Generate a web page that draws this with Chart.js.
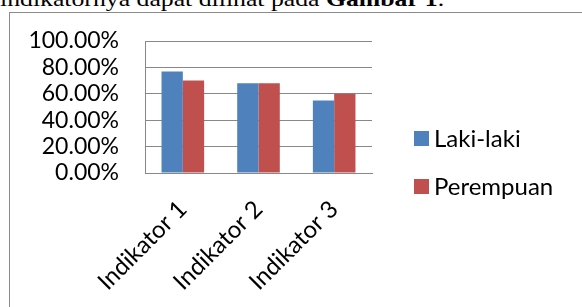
<!DOCTYPE html>
<html>
<head>
<meta charset="utf-8">
<script src="https://cdn.jsdelivr.net/npm/chart.js@4.4.1/dist/chart.umd.min.js"></script>
<style>
  body { margin: 0; background: #fff; width: 582px; height: 307px; overflow: hidden; position: relative; }
  #caption {
    position: absolute; left: 0; top: -12px; white-space: nowrap;
    font-family: "Liberation Serif", serif; font-size: 22px; line-height: 22px; color: #000;
    transform: scaleX(1.17); transform-origin: 0 0;
  }
  #frame { position: absolute; left: 9px; top: 12px; width: 700px; height: 400px; border: 1px solid #8a8a8a; }
  #chart { position: absolute; left: 10px; top: 13px; }
</style>
</head>
<body>
<div id="caption">indikatornya dapat dilihat pada <b>Gambar 1</b>.</div>
<div id="frame"></div>
<canvas id="chart" width="572" height="294"></canvas>
<script>
// data
const categories = ['Indikator 1', 'Indikator 2', 'Indikator 3'];
const lakiLaki = [76.8, 68, 55];
const perempuan = [70, 68, 60];
const seriesNames = ['Laki-laki', 'Perempuan'];
const yTicks = [0, 20, 40, 60, 80, 100];

const FONT = 'Lato, "Open Sans", sans-serif';
const GRID = '#888888';

// legenda digambar sendiri supaya posisinya sama dengan gambar asli
const sideLegend = {
    id: 'sideLegend',
    afterDraw(chart) {
        const ctx = chart.ctx;
        ctx.save();
        ctx.font = '24px ' + FONT;
        ctx.textBaseline = 'middle';
        chart.data.datasets.forEach((ds, i) => {
            const top = 118 + i * 48;
            ctx.fillStyle = ds.backgroundColor;
            ctx.fillRect(404, top, 15, 15);
            ctx.fillStyle = '#000';
            ctx.fillText(ds.label, 424, top + 8);
        });
        ctx.restore();
    }
};

new Chart(document.getElementById('chart'), {
    type: 'bar',
    data: {
        labels: categories,
        datasets: [{
            label: seriesNames[0],
            data: lakiLaki,
            backgroundColor: '#4F81BD',
            categoryPercentage: 0.563,
            barPercentage: 1.0
        }, {
            label: seriesNames[1],
            data: perempuan,
            backgroundColor: '#C0504D',
            categoryPercentage: 0.563,
            barPercentage: 1.0
        }]
    },
    options: {
        responsive: false,
        devicePixelRatio: 1,
        animation: false,
        layout: { padding: { top: 28, right: 210, left: 0, bottom: 0 } },
        plugins: {
            legend: { display: false },
            tooltip: { enabled: false }
        },
        scales: {
            x: {
                grid: { display: false, drawTicks: false },
                border: { display: true, color: GRID, width: 1 },
                ticks: {
                    color: '#000',
                    font: { family: FONT, size: 24 },
                    minRotation: 45,
                    maxRotation: 45,
                    padding: 22
                },
                afterFit: function(scale) {
                    scale.height = 134;
                    scale.paddingTop = 0;
                    scale.paddingBottom = 0;
                }
            },
            y: {
                min: 0,
                max: 100,
                afterBuildTicks: function(scale) {
                    scale.ticks = yTicks.map(v => ({ value: v }));
                },
                grid: { color: GRID, lineWidth: 1, drawTicks: false },
                border: { display: true, color: GRID, width: 1 },
                ticks: {
                    color: '#000',
                    font: { family: FONT, size: 23 },
                    padding: 26,
                    autoSkip: false,
                    callback: function(value) {
                        return value.toFixed(2) + '%';
                    }
                },
                afterFit: function(scale) {
                    scale.width = 135;
                    scale.paddingTop = 0;
                    scale.paddingBottom = 0;
                }
            }
        }
    },
    plugins: [sideLegend]
});
</script>
</body>
</html>
